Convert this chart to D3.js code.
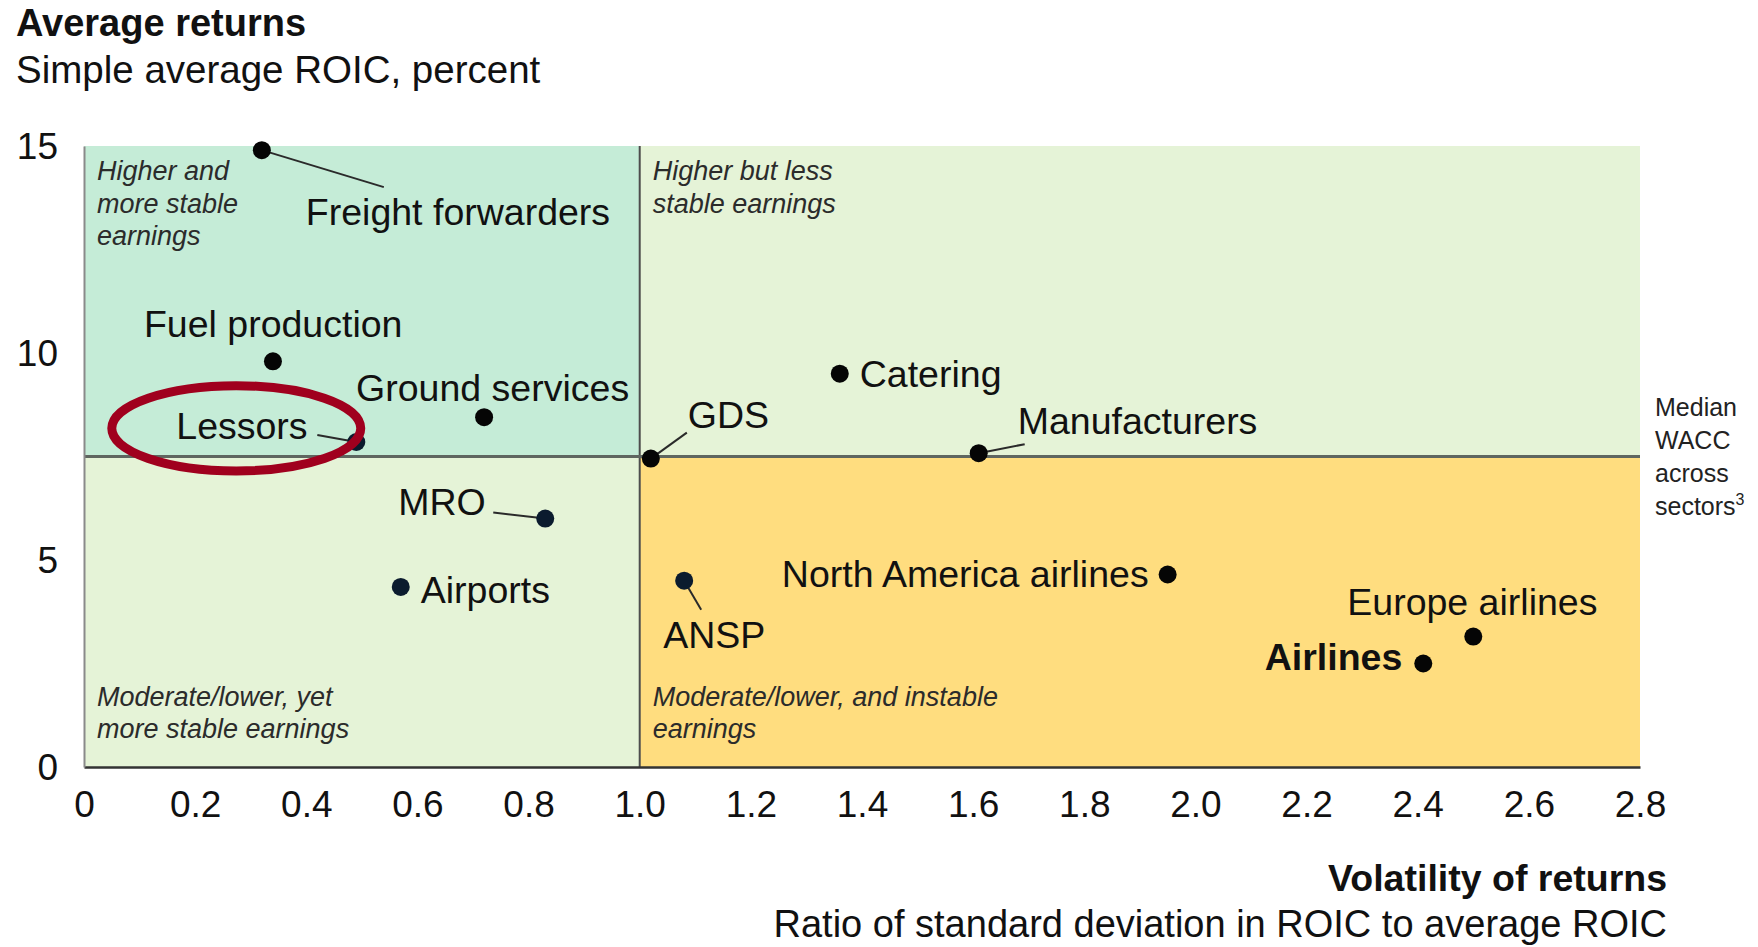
<!DOCTYPE html>
<html>
<head>
<meta charset="utf-8">
<script src="https://cdn.jsdelivr.net/npm/d3@7"></script>
<style>
  body { margin: 0; background: #fff; }
  svg text { font-family: "Liberation Sans", Arial, sans-serif; }
</style>
</head>
<body>
<script>
// sectors
const sectors = ["Freight forwarders","Fuel production","Ground services","Lessors","MRO","Airports",
                 "GDS","Catering","Manufacturers","ANSP","North America airlines","Europe airlines","Airlines"];
const volatility = [0.32, 0.34, 0.72, 0.49, 0.83, 0.57, 1.02, 1.36, 1.61, 1.08, 1.95, 2.50, 2.41];
const roic       = [14.9, 9.8, 8.45, 7.85, 6.0, 4.35, 7.45, 9.5, 7.58, 4.5, 4.65, 3.15, 2.5];

const xTicks = [0,0.2,0.4,0.6,0.8,1.0,1.2,1.4,1.6,1.8,2.0,2.2,2.4,2.6,2.8];
const xTickLabels = ["0","0.2","0.4","0.6","0.8","1.0","1.2","1.4","1.6","1.8","2.0","2.2","2.4","2.6","2.8"];
const yTicks = [0,5,10,15];

const volSplit = 1.0;   // boundary between stable / less stable
const medianWacc = 7.5; // median WACC across sectors

const quadrantNotes = [
  ["Higher and","more stable","earnings"],
  ["Higher but less","stable earnings"],
  ["Moderate/lower, yet","more stable earnings"],
  ["Moderate/lower, and instable","earnings"]
];

const W = 1758, H = 947;
const plotL = 84, plotR = 1640, plotT = 146, plotB = 767;

const x = d3.scaleLinear().domain([0, 2.8]).range([plotL, plotR]);
const y = d3.scaleLinear().domain([0, 15]).range([plotB, plotT]);

const svg = d3.select("body").append("svg").attr("width", W).attr("height", H);

// titles
svg.append("text").attr("x", 16).attr("y", 36)
   .style("font-size","38px").style("font-weight","bold").attr("fill","#111")
   .text("Average returns");
svg.append("text").attr("x", 16).attr("y", 83)
   .style("font-size","38.5px").attr("fill","#111")
   .text("Simple average ROIC, percent");

// quadrant backgrounds
const quads = [
  {x0:0, x1:volSplit, y0:medianWacc, y1:15, fill:"#c5ecd7"},
  {x0:volSplit, x1:2.8, y0:medianWacc, y1:15, fill:"#e5f3d7"},
  {x0:0, x1:volSplit, y0:0, y1:medianWacc, fill:"#e5f3d7"},
  {x0:volSplit, x1:2.8, y0:0, y1:medianWacc, fill:"#ffdd7f"}
];
svg.selectAll("rect.quad").data(quads).enter().append("rect")
   .attr("class","quad")
   .attr("x", d => x(d.x0)).attr("y", d => y(d.y1))
   .attr("width", d => x(d.x1) - x(d.x0)).attr("height", d => y(d.y0) - y(d.y1))
   .attr("fill", d => d.fill);

// quadrant notes
quads.forEach((q, i) => {
  const isTop = q.y1 === 15;
  const lines = quadrantNotes[i];
  const t = svg.append("text")
     .attr("x", x(q.x0) + 13)
     .attr("y", isTop ? y(q.y1) + 34 : y(0) - 29 - 32.5*(lines.length-1))
     .style("font-size","27px").style("font-style","italic").attr("fill","#2b2b2b");
  lines.forEach((l, j) => t.append("tspan").attr("x", x(q.x0) + 13).attr("dy", j ? 32.5 : 0).text(l));
});

// dividers
svg.append("line").attr("x1", x(volSplit)).attr("x2", x(volSplit)).attr("y1", y(15)).attr("y2", y(0))
   .attr("stroke","#4d4d4d").attr("stroke-width",2);
svg.append("line").attr("x1", x(0)).attr("x2", x(2.8)).attr("y1", y(medianWacc)).attr("y2", y(medianWacc))
   .attr("stroke","#5f6660").attr("stroke-width",3);

// axes
const xAxis = d3.axisBottom(x).tickValues(xTicks).tickSize(0).tickPadding(24)
                .tickFormat((d, i) => xTickLabels[i]);
const yAxis = d3.axisLeft(y).tickValues(yTicks).tickSize(0).tickPadding(26);

const gx = svg.append("g").attr("transform","translate(0," + plotB + ")").call(xAxis);
gx.select(".domain").attr("stroke","#333").attr("stroke-width",2.5);
gx.selectAll("text").style("font-size","37px").attr("fill","#111").style("font-family","Liberation Sans, Arial, sans-serif");

const gy = svg.append("g").attr("transform","translate(" + plotL + ",0)").call(yAxis);
gy.select(".domain").attr("stroke","#8a8a8a").attr("stroke-width",2);
gy.selectAll("text").style("font-size","37px").attr("fill","#111").style("font-family","Liberation Sans, Arial, sans-serif")
  .attr("dy","0.35em");

// label layout: offsets from the dot in px, optional leader end
const layout = {
  "Freight forwarders":     {dx: 44,  dy: 75, leader: [122, 37]},
  "Fuel production":        {dx: -129, dy: -24},
  "Ground services":        {dx: -128, dy: -16},
  "Lessors":                {dx: -180, dy: -3, leader: [-39, -7]},
  "MRO":                    {dx: -147, dy: -4, leader: [-52, -6]},
  "Airports":               {dx: 20,  dy: 16},
  "GDS":                    {dx: 37,  dy: -31, leader: [36, -26]},
  "Catering":               {dx: 20,  dy: 13},
  "Manufacturers":          {dx: 39,  dy: -19, leader: [46, -9]},
  "ANSP":                   {dx: -21, dy: 67, leader: [17, 29]},
  "North America airlines": {dx: -19, dy: 13, anchor: "end"},
  "Europe airlines":        {dx: -126, dy: -22},
  "Airlines":               {dx: -21, dy: 6, anchor: "end", bold: true}
};
const navy = new Set(["Lessors","MRO","Airports","ANSP"]);

const pts = sectors.map((s, i) => ({name: s, vx: x(volatility[i]), vy: y(roic[i])}));

svg.selectAll("line.leader").data(pts.filter(p => layout[p.name].leader)).enter().append("line")
   .attr("class","leader")
   .attr("x1", p => p.vx).attr("y1", p => p.vy)
   .attr("x2", p => p.vx + layout[p.name].leader[0]).attr("y2", p => p.vy + layout[p.name].leader[1])
   .attr("stroke","#2a2a2a").attr("stroke-width",2);

svg.selectAll("circle.dot").data(pts).enter().append("circle")
   .attr("class","dot")
   .attr("cx", p => p.vx).attr("cy", p => p.vy).attr("r", 9)
   .attr("fill", p => navy.has(p.name) ? "#0b1b2e" : "#050505");

svg.selectAll("text.lbl").data(pts).enter().append("text")
   .attr("class","lbl")
   .attr("x", p => p.vx + layout[p.name].dx).attr("y", p => p.vy + layout[p.name].dy)
   .attr("text-anchor", p => layout[p.name].anchor || "start")
   .style("font-size","37.5px")
   .style("font-weight", p => layout[p.name].bold ? "bold" : "normal")
   .attr("fill","#111")
   .text(p => p.name);

// median WACC note
const wacc = svg.append("text").attr("x", 1655).attr("y", 416)
   .style("font-size","25px").attr("fill","#222");
["Median","WACC","across","sectors"].forEach((l, j) => {
  wacc.append("tspan").attr("x", 1655).attr("dy", j ? 33 : 0).text(l);
});
wacc.append("tspan").attr("dy", -10).style("font-size","16px").text("3");

// x axis titles
svg.append("text").attr("x", 1667).attr("y", 891).attr("text-anchor","end")
   .style("font-size","37.5px").style("font-weight","bold").attr("fill","#111")
   .text("Volatility of returns");
svg.append("text").attr("x", 1667).attr("y", 937).attr("text-anchor","end")
   .style("font-size","38px").attr("fill","#111")
   .text("Ratio of standard deviation in ROIC to average ROIC");

// highlight ring around Lessors
svg.append("ellipse")
   .attr("cx", x(0.274)).attr("cy", y(8.18))
   .attr("rx", x(0.224) - x(0)).attr("ry", y(0) - y(1.03))
   .attr("fill","none").attr("stroke","#a0001e").attr("stroke-width",9);
</script>
</body>
</html>
